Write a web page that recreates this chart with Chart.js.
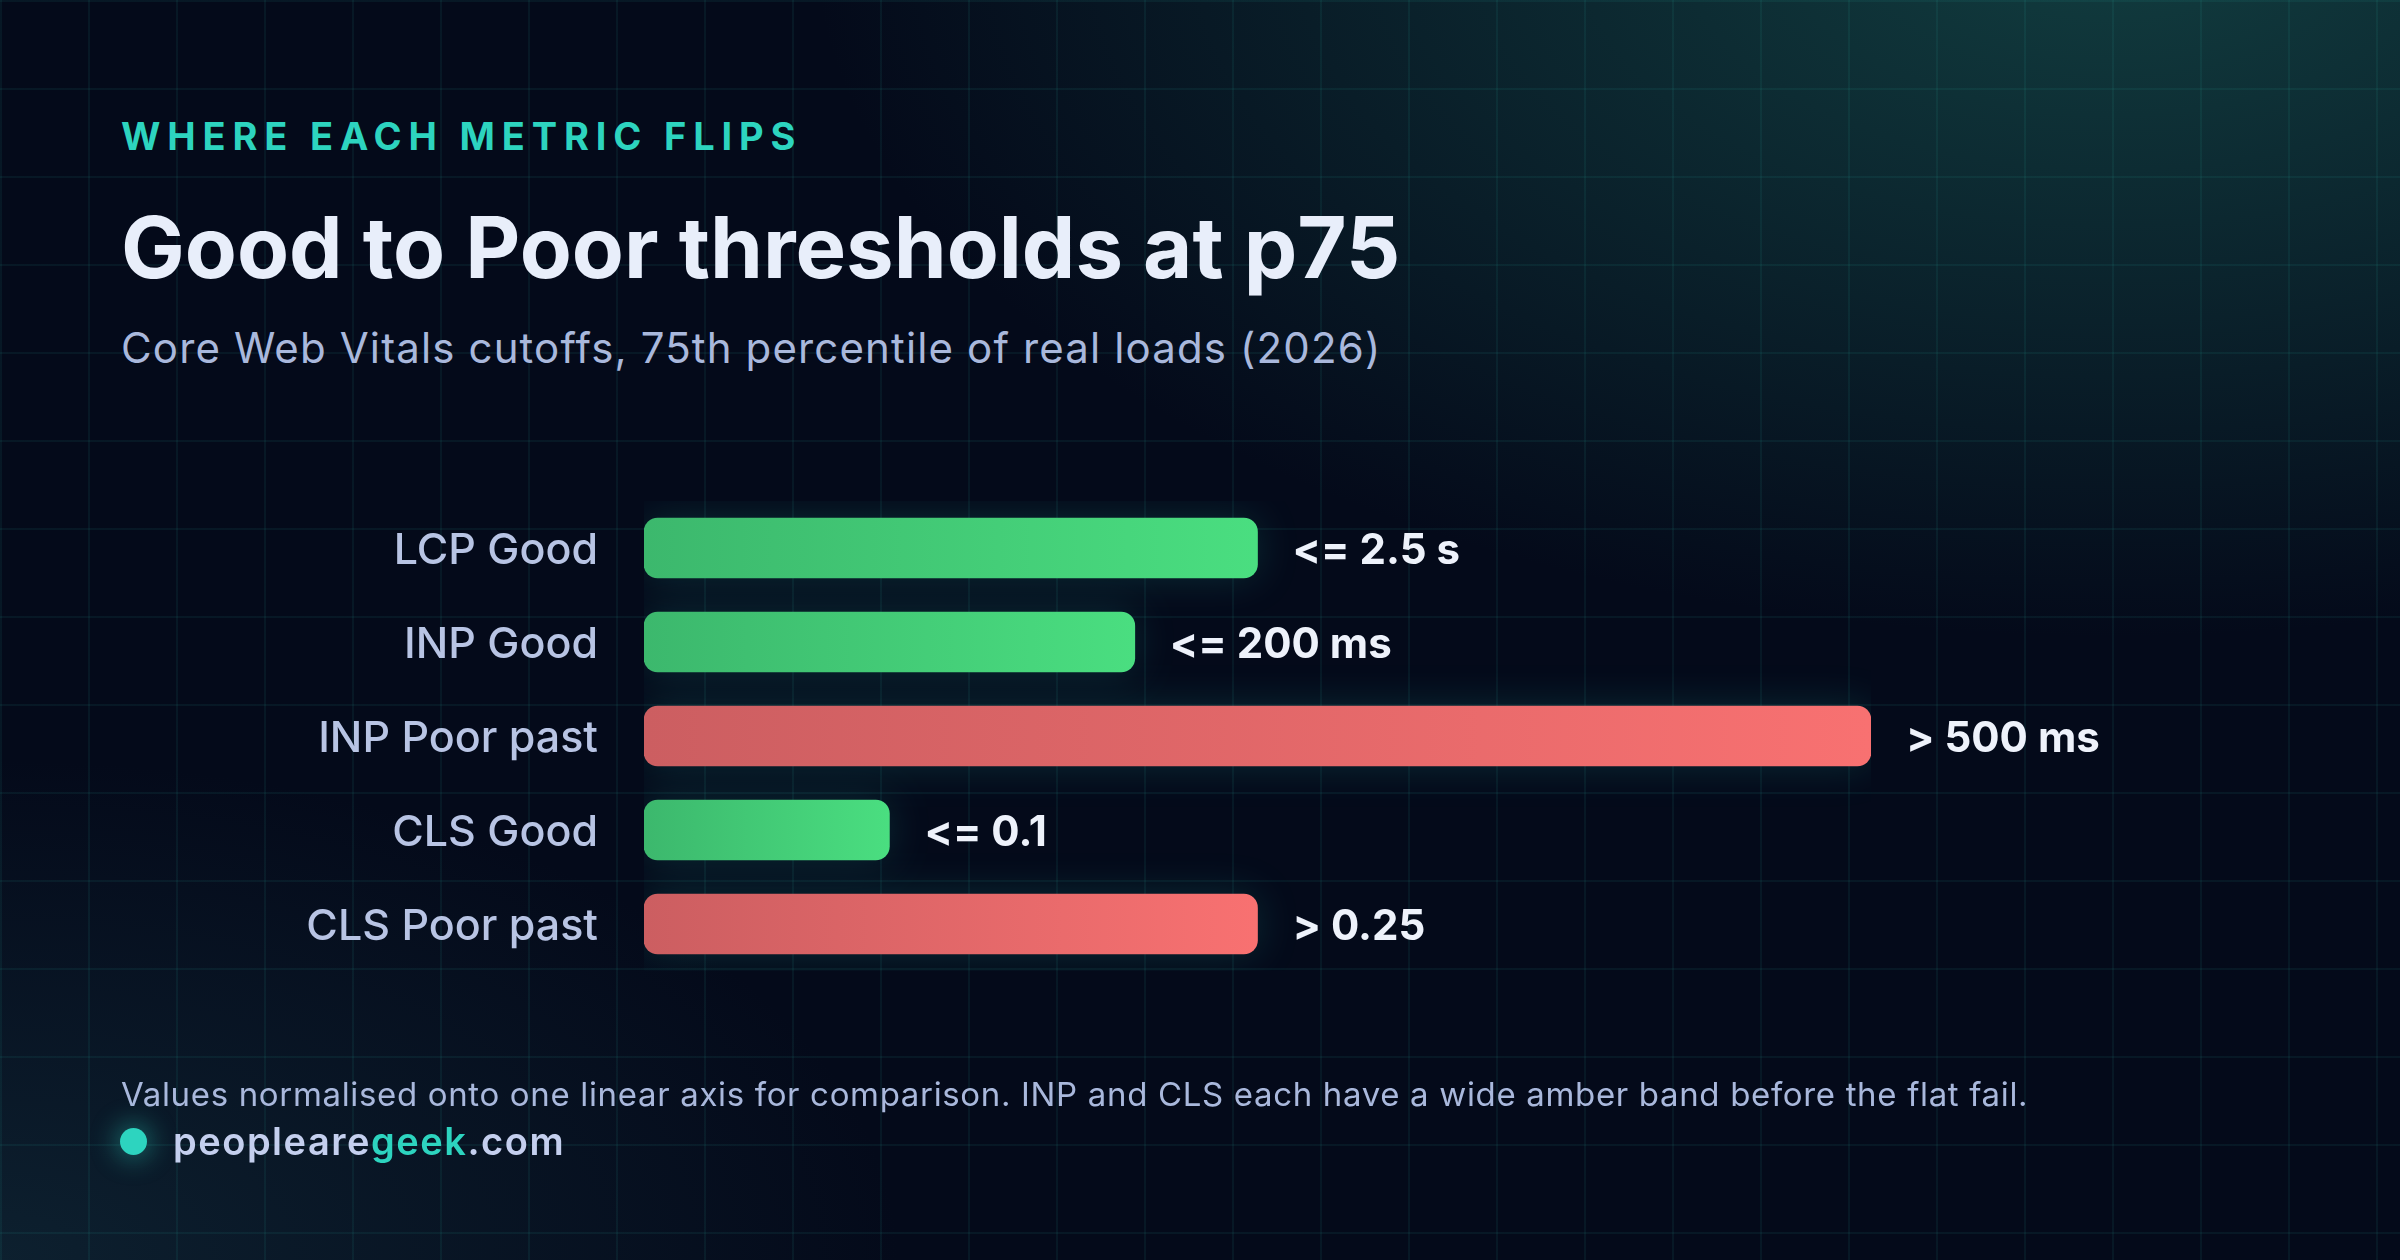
<!DOCTYPE html>
<html>
<head>
<meta charset="utf-8">
<title>Good to Poor thresholds at p75</title>
<script src="https://cdn.jsdelivr.net/npm/chart.js@4.4.1/dist/chart.umd.min.js"></script>
<style>
  html, body {
    margin: 0;
    padding: 0;
  }
  body {
    width: 2400px;
    height: 1260px;
    position: relative;
    overflow: hidden;
    font-family: Inter, "Noto Sans", sans-serif;
    background-color: #040a1a;
    background-image:
      linear-gradient(to right, rgba(45, 212, 191, 0.07) 0 2px, transparent 2px),
      linear-gradient(to bottom, rgba(45, 212, 191, 0.07) 0 2px, transparent 2px),
      radial-gradient(ellipse 1300px 700px at 88% -5%, rgba(22, 78, 76, 0.75), rgba(22, 78, 76, 0) 100%),
      radial-gradient(ellipse 900px 500px at 0% 100%, rgba(20, 50, 64, 0.55), rgba(20, 50, 64, 0) 100%);
    background-size: 88px 88px, 88px 88px, 100% 100%, 100% 100%;
  }
  .txt {
    position: absolute;
    left: 121px;
    line-height: 1;
    white-space: nowrap;
    margin: 0;
  }
  .kicker {
    top: 117px;
    font-size: 38px;
    font-weight: 700;
    letter-spacing: 0.18em;
    color: #2dd4bf;
  }
  .title {
    top: 205px;
    font-size: 85px;
    font-weight: 700;
    letter-spacing: 0;
    color: #e8eefa;
  }
  .subtitle {
    top: 327px;
    font-size: 42px;
    font-weight: 400;
    letter-spacing: 0.027em;
    color: #a9b8dc;
  }
  .note {
    top: 1078px;
    font-size: 33px;
    font-weight: 400;
    letter-spacing: 0.02em;
    color: #a9b8dc;
  }
  .brand {
    left: 173px;
    top: 1122px;
    font-size: 38px;
    font-weight: 600;
    letter-spacing: 0.04em;
    color: #c4cfee;
  }
  .brand span {
    color: #2dd4bf;
  }
  .dot {
    position: absolute;
    left: 120px;
    top: 1128px;
    width: 27px;
    height: 27px;
    border-radius: 50%;
    background: #2dd4bf;
    box-shadow: 0 0 24px 6px rgba(45, 212, 191, 0.35);
  }
  #chart {
    position: absolute;
    left: 0;
    top: 0;
  }
</style>
</head>
<body>
  <div class="txt kicker">WHERE EACH METRIC FLIPS</div>
  <h1 class="txt title">Good to Poor thresholds at p75</h1>
  <div class="txt subtitle">Core Web Vitals cutoffs, 75th percentile of real loads (2026)</div>

  <canvas id="chart" width="2400" height="1260"></canvas>

  <div class="txt note">Values normalised onto one linear axis for comparison. INP and CLS each have a wide amber band before the flat fail.</div>
  <div class="dot"></div>
  <div class="txt brand">peopleare<span>geek</span>.com</div>

<script>
const categories = ["LCP Good", "INP Good", "INP Poor past", "CLS Good", "CLS Poor past"];
const normalisedValues = [50, 40, 100, 20, 50];
const thresholdLabels = ["<= 2.5 s", "<= 200 ms", "> 500 ms", "<= 0.1", "> 0.25"];
const verdicts = ["good", "good", "poor", "good", "poor"];

const palette = {
  good: ["#3cb86d", "#4ade80"],
  poor: ["#cc5e61", "#f87171"]
};

function barFill(context) {
  const chart = context.chart;
  const verdict = verdicts[context.dataIndex] || "good";
  const stops = palette[verdict];
  if (!chart.chartArea || !chart.scales.x) {
    return stops[1];
  }
  const xScale = chart.scales.x;
  const x0 = xScale.getPixelForValue(0);
  const x1 = xScale.getPixelForValue(context.raw);
  const grad = chart.ctx.createLinearGradient(x0, 0, x1, 0);
  grad.addColorStop(0, stops[0]);
  grad.addColorStop(1, stops[1]);
  return grad;
}

// soft glow behind the bars, then the threshold text next to each bar
const thresholdText = {
  id: "thresholdText",
  beforeDatasetsDraw(chart) {
    const ctx = chart.ctx;
    ctx.save();
    ctx.shadowColor = "rgba(45, 212, 191, 0.16)";
    ctx.shadowBlur = 40;
  },
  afterDatasetsDraw(chart) {
    const ctx = chart.ctx;
    ctx.restore();
    const meta = chart.getDatasetMeta(0);
    ctx.save();
    ctx.font = "700 42px Inter, 'Noto Sans', sans-serif";
    ctx.fillStyle = "#eef2fb";
    ctx.textAlign = "left";
    ctx.textBaseline = "middle";
    meta.data.forEach((bar, i) => {
      ctx.fillText(thresholdLabels[i], bar.x + 35, bar.y + 3);
    });
    ctx.restore();
  }
};

const ctx = document.getElementById("chart");

new Chart(ctx, {
  type: "bar",
  data: {
    labels: categories,
    datasets: [{
      data: normalisedValues,
      backgroundColor: barFill,
      borderRadius: 14,
      borderSkipped: false,
      barThickness: 60
    }]
  },
  plugins: [thresholdText],
  options: {
    indexAxis: "y",
    responsive: false,
    animation: false,
    layout: {
      padding: { top: 501, bottom: 289, left: 0, right: 529 }
    },
    plugins: {
      legend: { display: false },
      tooltip: { enabled: false }
    },
    scales: {
      x: {
        display: false,
        min: 0,
        max: 100
      },
      y: {
        afterFit: function (scale) {
          scale.width = 644;
        },
        grid: { display: false, drawTicks: false },
        border: { display: false },
        ticks: {
          padding: 46,
          labelOffset: 3,
          color: "#b8c4e4",
          font: { family: "Inter, 'Noto Sans', sans-serif", size: 43, weight: 500 }
        }
      }
    }
  }
});
</script>
</body>
</html>
